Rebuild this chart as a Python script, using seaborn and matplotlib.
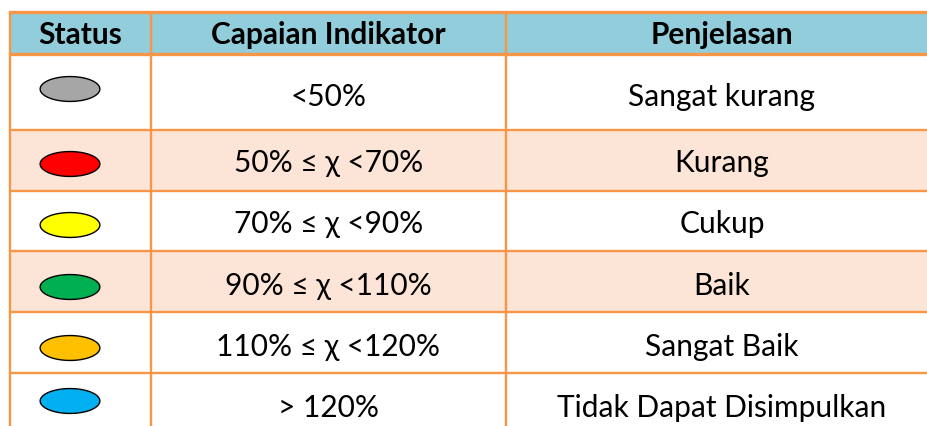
import numpy as np
import pandas as pd
import matplotlib
matplotlib.use("Agg")
import matplotlib.pyplot as plt
from matplotlib.patches import Rectangle
from matplotlib.path import Path
import seaborn as sns

# data
headers = ["Status", "Capaian Indikator", "Penjelasan"]
status_colors = ["#A6A6A6", "#FF0000", "#FFFF00", "#00B050", "#FFC000", "#00B0F0"]
capaian = ["<50%", "50% ≤ χ <70%", "70% ≤ χ <90%", "90% ≤ χ <110%",
           "110% ≤ χ <120%", "> 120%"]
penjelasan = ["Sangat kurang", "Kurang", "Cukup", "Baik", "Sangat Baik",
              "Tidak Dapat Disimpulkan"]
banded = [False, True, False, True, False, False]

sns.set_theme(style="white")
plt.rcParams['font.family'] = ['Lato', 'DejaVu Sans']

# layout (pixels)
col_edges = [10, 151, 506, 938]
row_edges = [13, 55, 131, 192, 252, 313, 374, 442]
text_shift = [4, 1.5, 2, 3.5, 3.5, 0]
dot_shift = [-3, 3.5, 4, 5.5, 5.5, -6]
header_fill = "#92CDDC"
band_fill = "#FCE4D6"
border = "#F79646"
fs = 21.5

fig = plt.figure(figsize=(9.27, 4.27), dpi=100)
ax = fig.add_axes([0, 0, 1, 1])

# cell backgrounds
fills = [header_fill] + [band_fill if b else "white" for b in banded]
for r, fc in enumerate(fills):
    ax.add_patch(Rectangle((col_edges[0], row_edges[r]), col_edges[-1] - col_edges[0],
                           row_edges[r + 1] - row_edges[r], facecolor=fc, edgecolor="none", zorder=0))

# grid lines
for i, y in enumerate(row_edges[:-1]):
    lw = 2.4 if i < 2 else 1.7
    ax.plot([col_edges[0], col_edges[-1]], [y, y], color=border, lw=lw, zorder=1)
for x in col_edges[:-1]:
    ax.plot([x, x], [row_edges[0], row_edges[-1]], color=border, lw=1.7, zorder=1)

# header text
col_centers = [(col_edges[i] + col_edges[i + 1]) / 2 for i in range(3)]
col_centers[0] = 80
hy = (row_edges[0] + row_edges[1]) / 2 + 1
for x, h in zip(col_centers, headers):
    ax.text(x, hy, h, ha="center", va="center", fontsize=fs, fontweight="bold", color="black")

mids = [(row_edges[i] + row_edges[i + 1]) / 2 for i in range(1, len(row_edges) - 1)]
for y, s, c, p in zip(mids, text_shift, capaian, penjelasan):
    ax.text(col_centers[1], y + s, c, ha="center", va="center", fontsize=fs, color="black")
    ax.text(col_centers[2], y + s, p, ha="center", va="center", fontsize=fs, color="black")

# status ellipses
t = np.linspace(0, 2 * np.pi, 100)
ellipse = Path(np.column_stack([2.4 * np.cos(t), np.sin(t)]), closed=True)
dots = pd.DataFrame({"x": [70] * len(status_colors),
                     "y": [m + d for m, d in zip(mids, dot_shift)],
                     "status": penjelasan})
sns.scatterplot(data=dots, x="x", y="y", hue="status", palette=dict(zip(penjelasan, status_colors)),
                marker=ellipse, s=43 ** 2, edgecolor="black", linewidth=1.0,
                legend=False, ax=ax, zorder=3)
ax.set_xlim(0, 927)
ax.set_ylim(427, 0)
ax.axis("off")

fig.savefig("out.png", dpi=100)
